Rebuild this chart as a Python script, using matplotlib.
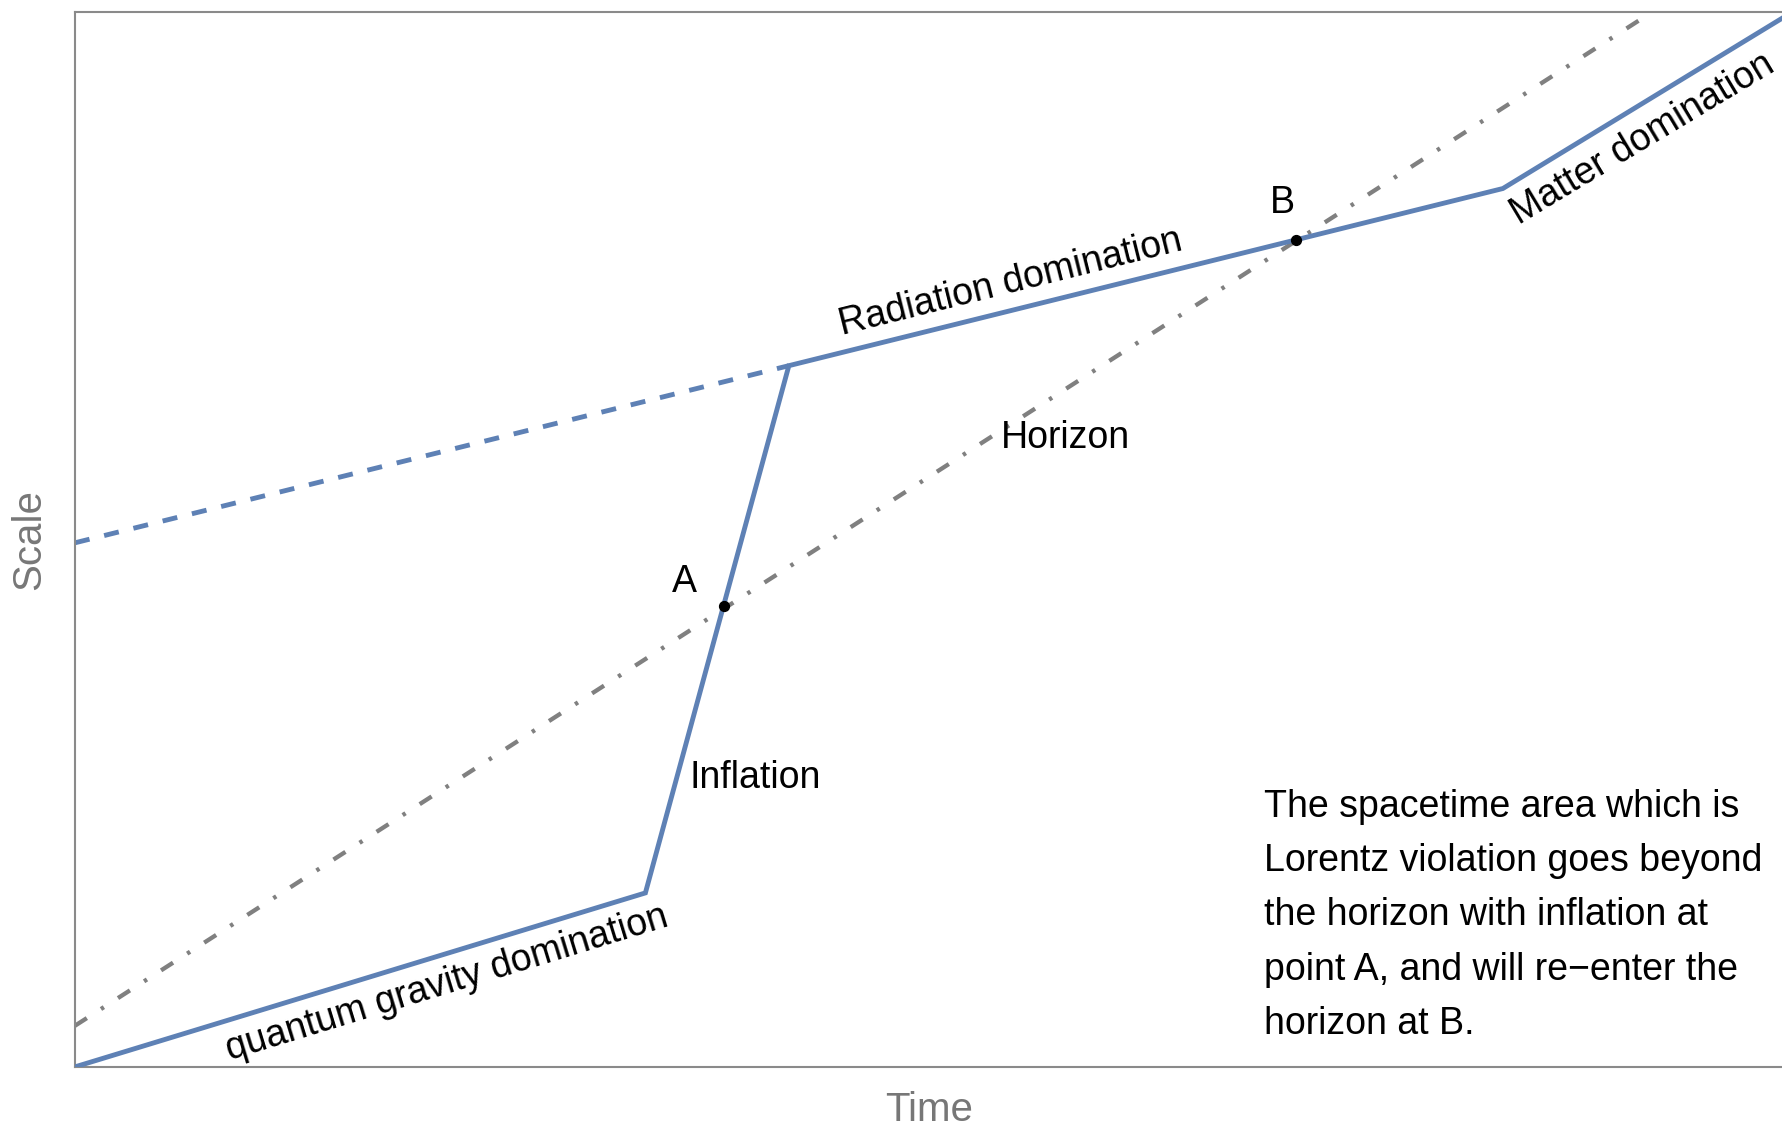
import matplotlib.pyplot as plt

plt.rcParams["font.family"] = ["Liberation Sans", "DejaVu Sans"]

# scale factor evolution (arbitrary units, x = time, y = scale)
scale_x = [0.0, 3.34, 4.18, 8.36, 10.0]
scale_y = [0.0, 1.65, 6.65, 8.33, 9.95]

# radiation era extended back (no inflation)
noinf_x = [0.0, 4.18]
noinf_y = [4.97, 6.65]

# horizon
horizon_x = [0.0, 9.23]
horizon_y = [0.39, 10.0]

# crossing points
pts_x = [3.80, 7.15]
pts_y = [4.37, 7.84]
pts_lab = ["A", "B"]

BLUE = "#5E81B5"
GRAY = "#808080"

fig = plt.figure(figsize=(17.83, 11.29), dpi=100)
ax = fig.add_axes([0.042, 0.055, 0.958, 0.934])

ax.plot(horizon_x, horizon_y, color=GRAY, lw=3.1, ls=(0, (3.3, 3.9, 0.8, 3.9)), zorder=1)
ax.plot(noinf_x, noinf_y, color=BLUE, lw=3.5, ls=(0, (3.1, 3.1)), zorder=2)
ax.plot(scale_x, scale_y, color=BLUE, lw=3.5, zorder=3, solid_joinstyle="miter")
ax.scatter(pts_x, pts_y, s=50, color="black", zorder=4)

fs = 27
ax.text(3.57, 4.60, pts_lab[0], fontsize=fs, ha="center", va="center")
ax.text(7.07, 8.19, pts_lab[1], fontsize=fs, ha="center", va="center")
ax.text(5.48, 7.44, "Radiation domination", fontsize=fs, rotation=14,
        ha="center", va="center", rotation_mode="anchor")
ax.text(9.18, 8.80, "Matter domination", fontsize=fs, rotation=31,
        ha="center", va="center", rotation_mode="anchor")
ax.text(2.18, 0.79, "quantum gravity domination", fontsize=fs, rotation=17,
        ha="center", va="center", rotation_mode="anchor")
ax.text(5.42, 5.96, "Horizon", fontsize=fs, ha="left", va="center")
ax.text(3.60, 2.74, "Inflation", fontsize=fs, ha="left", va="center")
ax.text(6.96, 2.64,
        "The spacetime area which is\nLorentz violation goes beyond\n"
        "the horizon with inflation at\npoint A, and will re\u2212enter the\nhorizon at B.",
        fontsize=fs, ha="left", va="top", linespacing=1.66)

ax.set_xlim(0, 10)
ax.set_ylim(0, 10)
ax.set_xticks([])
ax.set_yticks([])
for sp in ("left", "top", "bottom"):
    ax.spines[sp].set_color("#8a8a8a")
    ax.spines[sp].set_linewidth(1.5)
ax.spines["right"].set_visible(False)
ax.set_xlabel("Time", fontsize=29, color="#777777", labelpad=17)
ax.set_ylabel("Scale", fontsize=29, color="#777777", labelpad=19)

fig.savefig("out.png", dpi=100)
